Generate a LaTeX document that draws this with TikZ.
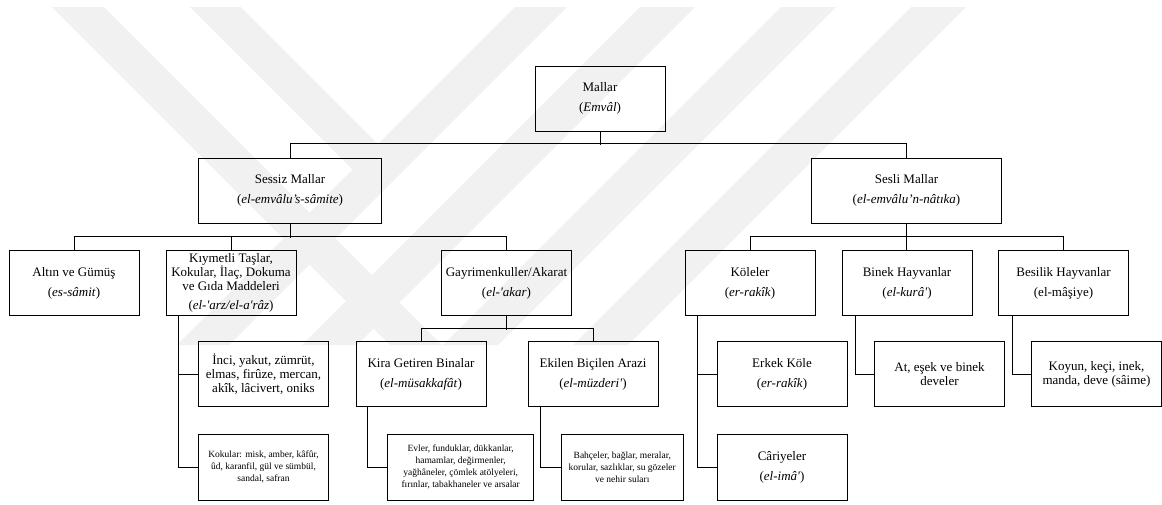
\documentclass[tikz,border=0pt]{standalone}
\usepackage{fontspec}
\setmainfont{Liberation Serif}
\usetikzlibrary{calc}

\begin{document}
\begin{tikzpicture}[x=1pt, y=-1pt,
  box/.style={draw, line width=1pt, align=center, inner sep=0pt, minimum width=130pt, minimum height=65pt, font=\fontsize{13}{13.8}\selectfont},
  smallbox/.style={box, minimum height=66pt, font=\fontsize{9.5}{12}\selectfont},
  link/.style={line width=1pt},
  wmark/.style={fill=black!5.5, draw=none}]
  \useasboundingbox (0,0) rectangle (1162,504);
  % watermark
  \fill[wmark] (52,7) -- (104,7) -- (442,345) -- (390,345) -- cycle;
  \fill[wmark] (190,7) -- (241,7) -- (378,144) -- (515,7) -- (567,7) -- (229,345) -- (177,345) -- (352.5,169.5) -- cycle;
  \fill[wmark] (640,7) -- (695,7) -- (357,345) -- (302,345) -- cycle;
  \fill[wmark] (781,7) -- (836,7) -- (498,345) -- (443,345) -- cycle;
  \fill[wmark] (911,7) -- (966,7) -- (628,345) -- (573,345) -- cycle;

  \node[box] (mallar) at (600,98.5) {Mallar\\[6pt](\textit{Emvâl})};

  \node[box, minimum width=183pt] (sessiz) at (290,190.5) {Sessiz Mallar\\[6pt](\textit{el-emvâlu’s-sâmite})};
  \node[box, minimum width=190pt] (sesli) at (906.5,190.5) {Sesli Mallar\\[6pt](\textit{el-emvâlu’n-nâtıka})};

  \node[box] (altin) at (74,283) {Altın ve Gümüş\\[6pt](\textit{es-sâmit})};
  \node[box] (kiymetli) at (231,283) {Kıymetli Taşlar,\\Kokular, İlaç, Dokuma\\ve Gıda Maddeleri\\[6pt](\textit{el-\textquotesingle arz/el-a\textquotesingle râz})};
  \node[box] (gayri) at (506.5,283) {Gayrimenkuller/Akarat\\[6pt](\textit{el-\textquotesingle akar})};
  \node[box] (koleler) at (750,283) {Köleler\\[6pt](\textit{er-rakîk})};
  \node[box] (binek) at (907,283) {Binek Hayvanlar\\[6pt](\textit{el-kurâ\textquotesingle})};
  \node[box] (besilik) at (1063.5,283) {Besilik Hayvanlar\\[6pt](el-mâşiye)};

  \node[box] (inci) at (263.5,374) {İnci, yakut, zümrüt,\\elmas, firûze, mercan,\\akîk, lâcivert, oniks};
  \node[box] (kira) at (421,374) {Kira Getiren Binalar\\[6pt](\textit{el-müsakkafât})};
  \node[box] (ekilen) at (593,374) {Ekilen Biçilen Arazi\\[6pt](\textit{el-müzderi\textquotesingle})};
  \node[box] (erkek) at (782,374) {Erkek Köle\\[6pt](\textit{er-rakîk})};
  \node[box] (develer) at (939.5,374) {At, eşek ve binek\\develer};
  \node[box] (koyun) at (1096.5,374) {Koyun, keçi, inek,\\manda, deve (sâime)};

  \node[smallbox] (kokular) at (263.5,467) {Kokular: misk, amber, kâfûr,\\ûd, karanfil, gül ve sümbül,\\sandal, safran};
  \node[smallbox, minimum width=146pt] (evler) at (460.7,467) {Evler, funduklar, dükkanlar,\\hamamlar, değirmenler,\\yağhâneler, çömlek atölyeleri,\\fırınlar, tabakhaneler ve arsalar};
  \node[smallbox, minimum width=122.5pt] (bahce) at (622.3,467) {Bahçeler, bağlar, meralar,\\korular, sazlıklar, su gözeler\\ve nehir suları};
  \node[box, minimum height=66pt] (cariye) at (782,467) {Câriyeler\\[6pt](\textit{el-imâ\textquotesingle})};

  \draw[link] (mallar.south) -- ++(0,13.5);
  \draw[link] (sessiz.north) -- ++(0,-14) -| (sesli.north);
  \draw[link] (sessiz.south) -- ++(0,14);
  \draw[link] (altin.north) -- ++(0,-14) -| (gayri.north);
  \draw[link] (kiymetli.north) -- ++(0,-14);
  \draw[link] (sesli.south) -- (sesli.south |- binek.north);
  \draw[link] (koleler.north) -- ++(0,-14) -| (besilik.north);
  \draw[link] (gayri.south) -- ++(0,13.5);
  \draw[link] (kira.north) -- ++(0,-13) -| (ekilen.north);

  \draw[link] ([xshift=13.4pt]kiymetli.south west) |- (inci.west);
  \draw[link] ([xshift=13.4pt]kiymetli.south west) |- (kokular.west);
  \draw[link] ([xshift=12.4pt]kira.south west) |- (evler.west);
  \draw[link] ([xshift=12.5pt]ekilen.south west) |- (bahce.west);
  \draw[link] ([xshift=13.3pt]koleler.south west) |- (erkek.west);
  \draw[link] ([xshift=13.3pt]koleler.south west) |- (cariye.west);
  \draw[link] ([xshift=14pt]binek.south west) |- (develer.west);
  \draw[link] ([xshift=14pt]besilik.south west) |- (koyun.west);
\end{tikzpicture}
\end{document}
